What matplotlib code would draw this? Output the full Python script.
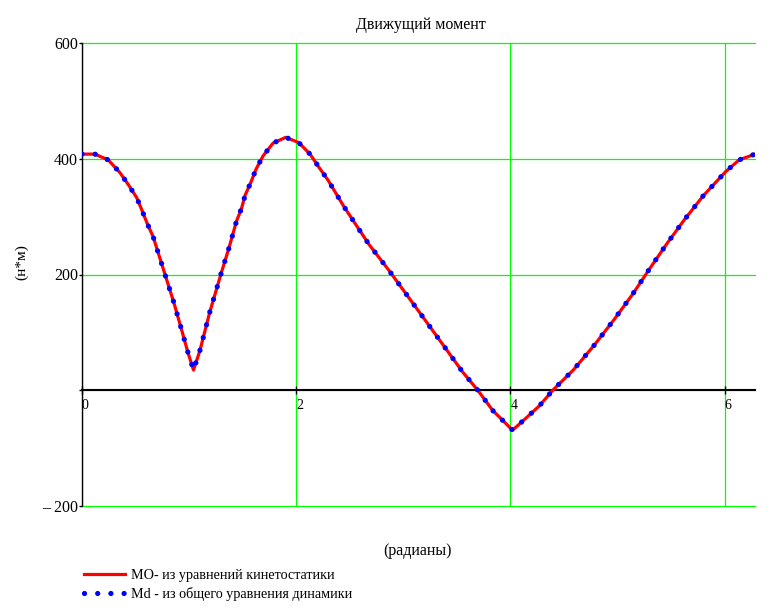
import matplotlib
matplotlib.use('Agg')
import numpy as np
import matplotlib.pyplot as plt

plt.rcParams['font.family'] = ['Liberation Serif', 'DejaVu Serif']

# angle, rad
phi = [0, 0.12, 0.245, 0.354, 0.43, 0.51, 0.562, 0.609, 0.665, 0.702, 0.777,
       0.855, 0.923, 0.991, 1.041, 1.10, 1.193, 1.299, 1.374, 1.442, 1.489,
       1.523, 1.576, 1.625, 1.691, 1.784, 1.902, 2.023, 2.129, 2.213, 2.297,
       2.443, 2.679, 2.866, 3.043, 3.22, 3.388, 3.556, 3.695, 3.835, 4.02,
       4.152, 4.27, 4.395, 4.587, 4.783, 4.963, 5.141, 5.296, 5.452, 5.613,
       5.8, 6.011, 6.135, 6.283]
# MO - kinetostatics, N*m
m_o = [408, 408, 398, 376, 356, 333, 310, 288, 265, 243, 199,
       153, 109, 64, 35, 68, 135, 202, 247, 292, 314,
       337, 359, 382, 405, 427, 437, 428, 408, 385, 363,
       318, 252, 207, 162, 117, 74, 31, 0, -35, -69,
       -47, -27, 0, 35, 78, 121, 166, 209, 251, 292,
       336, 378, 398, 408]
# Md - general dynamics equation (same curve)
m_d = list(m_o)

y_ticks = [600, 400, 200, 0, -200]
y_labels = ['600', '400', '200', '', '\u2013 200']
x_ticks = [0, 2, 4, 6]
x_labels = ['0', '2', '4', '6']

fig = plt.figure(figsize=(7.79, 6.12), dpi=100)
ax = fig.add_axes([82/779, 1-506/612, (755-82)/779, (506-43)/612])

ax.plot(phi, m_o, color='red', lw=2.3, label='МО- из уравнений кинетостатики', zorder=3)
ax.plot(phi, m_d, color='blue', lw=3.8, linestyle=(0, (0.001, 2.5)),
        dash_capstyle='round', label='Md - из общего уравнения динамики', zorder=4)

ax.set_xlim(0, 2*np.pi)
ax.set_ylim(-200, 600)

ax.set_yticks(y_ticks)
ax.set_yticklabels(y_labels, fontsize=11.5)
ax.set_xticks(x_ticks)
ax.set_xticklabels(x_labels, fontsize=11.5)
ax.grid(True, color='#00ff00', lw=0.9)
ax.set_axisbelow(True)
for gl in ax.get_xgridlines() + ax.get_ygridlines():
    gl.set_clip_on(False)

for s in ['top', 'right']:
    ax.spines[s].set_visible(False)
ax.spines['left'].set_linewidth(1.0)
ax.spines['bottom'].set_position(('data', 0))
ax.spines['bottom'].set_linewidth(1.5)
ax.spines['bottom'].set_zorder(2)
ax.tick_params(axis='y', direction='out', length=2.5, width=1, pad=0.5)
ax.tick_params(axis='x', direction='inout', length=6, width=1, pad=3)
plt.setp(ax.get_xticklabels(), ha='left')

fig.text(421/779, 1-25/612, 'Движущий момент', ha='center', va='center', fontsize=11.5)
fig.text(418/779, 1-551/612, '(радианы)', ha='center', va='center', fontsize=11.5)
fig.text(22/779, 1-262/612, '(н*м)', ha='center', va='center', rotation=90, fontsize=11)

leg = fig.legend(loc='upper left', bbox_to_anchor=(84/779, 1-569/612), frameon=False,
                 fontsize=10.2, handlelength=2.9, handletextpad=0.45, labelspacing=0.35,
                 borderpad=0, borderaxespad=0)

fig.savefig('out.png', dpi=100)
